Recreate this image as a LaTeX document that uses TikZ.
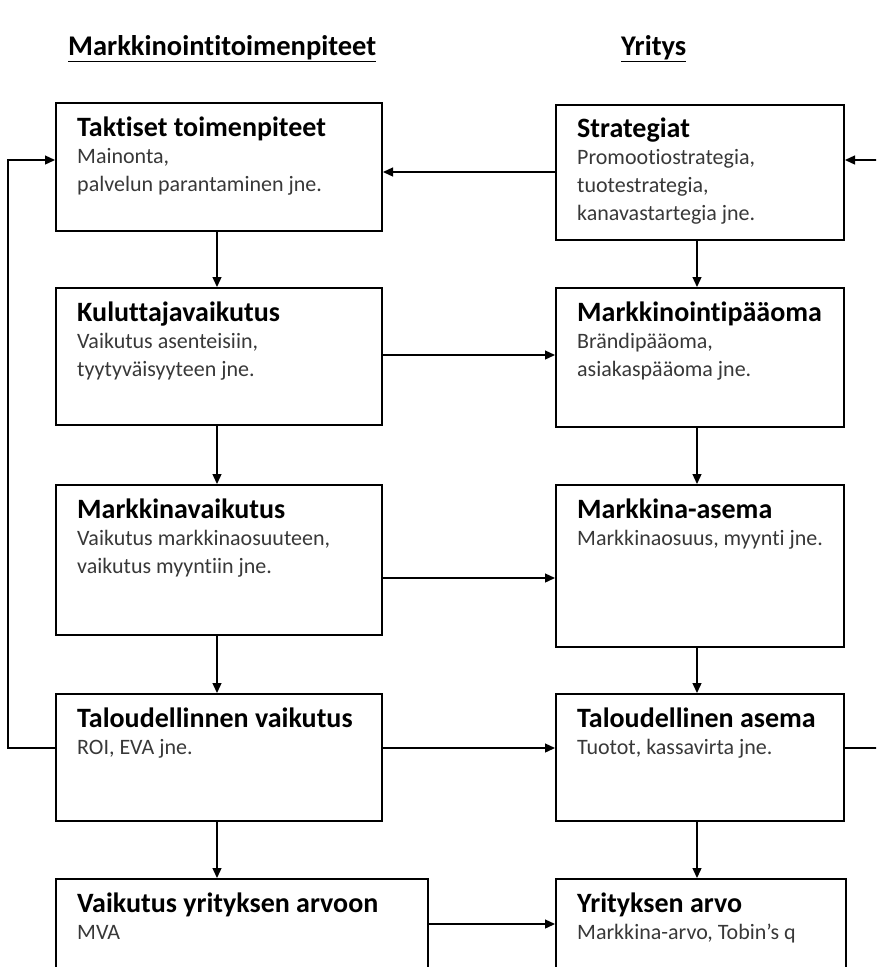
\documentclass[tikz,border=0pt]{standalone}
\usepackage{fontspec}
\setmainfont{Carlito}[Ligatures=NoCommon]
\usetikzlibrary{arrows.meta}
\begin{document}
\begin{tikzpicture}[x=1pt,y=-1pt,
  stage/.style={draw, line width=2pt, anchor=north west, inner sep=0pt},
  ttl/.style={anchor=base west, inner sep=0pt, font=\bfseries\fontsize{28}{32}\selectfont},
  bodytxt/.style={anchor=base west, inner sep=0pt, font=\fontsize{22}{26}\selectfont, text=black!78},
  hdr/.style={anchor=base west, inner sep=0pt, font=\bfseries\fontsize{28.5}{32}\selectfont},
  conn/.style={line width=1.3pt},
  arr/.style={conn, -{Triangle[length=10pt,width=9pt]}}
]
\useasboundingbox (0,0) rectangle (876,967);
\clip (0,0) rectangle (876,967);

% headers
\node[hdr] (h1) at (68,55) {\underline{Markkinointitoimenpiteet}};
\node[hdr] (h2) at (621,55) {\underline{Yritys}};

% left column boxes
\node[stage, minimum width=326, minimum height=128] (t1) at (55,102) {};
\node[stage, minimum width=326, minimum height=137] (t2) at (55,287) {};
\node[stage, minimum width=326, minimum height=150] (t3) at (55,484) {};
\node[stage, minimum width=326, minimum height=127] (t4) at (55,693) {};
\node[stage, minimum width=372, minimum height=130] (t5) at (55,878) {};

% right column boxes
\node[stage, minimum width=288, minimum height=135] (s1) at (555,104) {};
\node[stage, minimum width=288, minimum height=139] (s2) at (555,287) {};
\node[stage, minimum width=288, minimum height=162] (s3) at (555,484) {};
\node[stage, minimum width=288, minimum height=127] (s4) at (555,693) {};
\node[stage, minimum width=290, minimum height=130] (s5) at (555,878) {};

% texts left
\node[ttl] (t1a) at (77,136) {Taktiset toimenpiteet};
\node[bodytxt] (t1b) at (77,163) {Mainonta,};
\node[bodytxt] (t1c) at (77,191) {palvelun parantaminen jne.};
\node[ttl] (t2a) at (77,321) {Kuluttajavaikutus};
\node[bodytxt] (t2b) at (77,348) {Vaikutus asenteisiin,};
\node[bodytxt] (t2c) at (77,376) {tyytyväisyyteen jne.};
\node[ttl] (t3a) at (77,518) {Markkinavaikutus};
\node[bodytxt] (t3b) at (77,545) {Vaikutus markkinaosuuteen,};
\node[bodytxt] (t3c) at (77,573) {vaikutus myyntiin jne.};
\node[ttl] (t4a) at (77,727) {Taloudellinnen vaikutus};
\node[bodytxt] (t4b) at (77,754) {ROI, EVA jne.};
\node[ttl] (t5a) at (77,912) {Vaikutus yrityksen arvoon};
\node[bodytxt] (t5b) at (77,939) {MVA};

% texts right
\node[ttl] (s1a) at (577,137) {Strategiat};
\node[bodytxt] (s1b) at (577,164) {Promootiostrategia,};
\node[bodytxt] (s1c) at (577,192) {tuotestrategia,};
\node[bodytxt] (s1d) at (577,220) {kanavastartegia jne.};
\node[ttl] (s2a) at (577,321) {Markkinointipääoma};
\node[bodytxt] (s2b) at (577,348) {Brändipääoma,};
\node[bodytxt] (s2c) at (577,376) {asiakaspääoma jne.};
\node[ttl] (s3a) at (577,518) {Markkina-asema};
\node[bodytxt] (s3b) at (577,545) {Markkinaosuus, myynti jne.};
\node[ttl] (s4a) at (577,727) {Taloudellinen asema};
\node[bodytxt] (s4b) at (577,754) {Tuotot, kassavirta jne.};
\node[ttl] (s5a) at (577,912) {Yrityksen arvo};
\node[bodytxt] (s5b) at (577,939) {Markkina-arvo, Tobin’s q};

% reference coordinates
\coordinate (lx) at (217,0);
\coordinate (rx) at (697,0);
\coordinate (y1) at (0,172);
\coordinate (y2) at (0,355);
\coordinate (y3) at (0,578);
\coordinate (y4) at (0,748);
\coordinate (y5) at (0,924);
\coordinate (fbtop) at (0,160);
\coordinate (fbL) at (8,0);
\coordinate (edgeR) at (878,0);

% vertical arrows
\draw[arr] (t1.south -| lx) -- (t2.north -| lx);
\draw[arr] (t2.south -| lx) -- (t3.north -| lx);
\draw[arr] (t3.south -| lx) -- (t4.north -| lx);
\draw[arr] (t4.south -| lx) -- (t5.north -| lx);
\draw[arr] (s1.south -| rx) -- (s2.north -| rx);
\draw[arr] (s2.south -| rx) -- (s3.north -| rx);
\draw[arr] (s3.south -| rx) -- (s4.north -| rx);
\draw[arr] (s4.south -| rx) -- (s5.north -| rx);

% horizontal arrows
\draw[arr] (s1.west |- y1) -- (t1.east |- y1);
\draw[arr] (t2.east |- y2) -- (s2.west |- y2);
\draw[arr] (t3.east |- y3) -- (s3.west |- y3);
\draw[arr] (t4.east |- y4) -- (s4.west |- y4);
\draw[arr] (t5.east |- y5) -- (s5.west |- y5);

% feedback loops
\draw[arr] (t4.west |- y4) -- (fbL |- y4) -- (fbL |- fbtop) -- (t1.west |- fbtop);
\draw[conn] (s4.east |- y4) -- (edgeR |- y4);
\draw[arr] (edgeR |- fbtop) -- (s1.east |- fbtop);
\end{tikzpicture}
\end{document}
